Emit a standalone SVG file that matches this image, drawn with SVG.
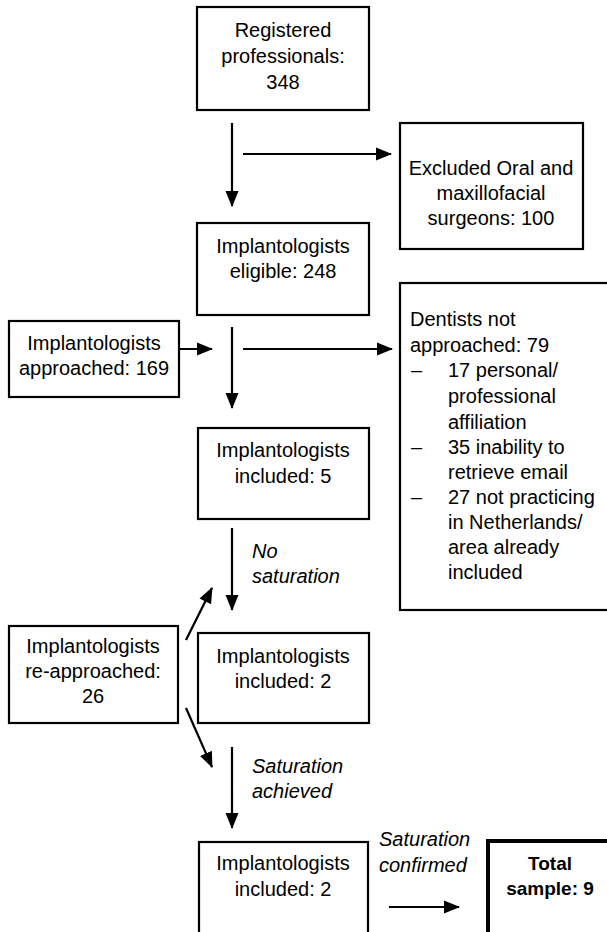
<svg xmlns="http://www.w3.org/2000/svg" width="607" height="932" viewBox="0 0 607 932">
<style>
.box{fill:#fff;stroke:#000;stroke-width:2.2}
.thick{fill:#fff;stroke:#000;stroke-width:4}
.t{font-family:"Liberation Sans",Arial,sans-serif;font-size:20px;fill:#000}
.c{text-anchor:middle}
.i{font-style:italic}
.b{font-weight:bold;font-size:19px}
.ln{stroke:#000;stroke-width:2.2;fill:none;marker-end:url(#ah)}
</style>
<defs>
<marker id="ah" markerUnits="userSpaceOnUse" markerWidth="16" markerHeight="16" viewBox="0 0 16 16" refX="15" refY="8" orient="auto">
<path d="M0,1.5 L16,8 L0,14.5 Z" fill="#000"/>
</marker>
</defs>
<rect width="607" height="932" fill="#fff"/>
<g id="connectors">
<line class="ln" x1="232" y1="123" x2="232" y2="206"/>
<line class="ln" x1="243" y1="154" x2="391" y2="154"/>
<line class="ln" x1="179" y1="349" x2="212" y2="349"/>
<line class="ln" x1="243" y1="349" x2="392" y2="349"/>
<line class="ln" x1="232" y1="327" x2="232" y2="408"/>
<line class="ln" x1="232" y1="528" x2="232" y2="610"/>
<line class="ln" x1="186" y1="640" x2="212" y2="588"/>
<line class="ln" x1="186" y1="708" x2="212" y2="767"/>
<line class="ln" x1="232" y1="747" x2="232" y2="828"/>
<line class="ln" x1="389" y1="907" x2="459" y2="907"/>
<text class="t i" x="252" y="558">No</text>
<text class="t i" x="252" y="583">saturation</text>
<text class="t i" x="252" y="773">Saturation</text>
<text class="t i" x="252" y="798">achieved</text>
<text class="t i" x="379" y="846">Saturation</text>
<text class="t i" x="379" y="872">confirmed</text>
</g>
<g id="registered">
<rect class="box" x="197" y="7" width="172" height="103"/>
<text class="t c" x="283" y="37">Registered</text>
<text class="t c" x="283" y="63">professionals:</text>
<text class="t c" x="283" y="89">348</text>
</g>
<g id="excluded">
<rect class="box" x="400" y="123" width="183" height="126"/>
<text class="t c" x="491" y="175">Excluded Oral and</text>
<text class="t c" x="491" y="200">maxillofacial</text>
<text class="t c" x="491" y="225">surgeons: 100</text>
</g>
<g id="eligible">
<rect class="box" x="197" y="223" width="172" height="92"/>
<text class="t c" x="283" y="253">Implantologists</text>
<text class="t c" x="283" y="278">eligible: 248</text>
</g>
<g id="approached">
<rect class="box" x="9" y="321" width="170" height="76"/>
<text class="t c" x="94" y="350">Implantologists</text>
<text class="t c" x="94" y="375">approached: 169</text>
</g>
<g id="notapproached">
<rect class="box" x="400" y="283" width="230" height="327"/>
<text class="t" x="410" y="326">Dentists not</text>
<text class="t" x="410" y="352">approached: 79</text>
<text class="t" x="411" y="377">–</text>
<text class="t" x="448" y="377">17 personal/</text>
<text class="t" x="448" y="403">professional</text>
<text class="t" x="448" y="429">affiliation</text>
<text class="t" x="411" y="454">–</text>
<text class="t" x="448" y="454">35 inability to</text>
<text class="t" x="448" y="479">retrieve email</text>
<text class="t" x="411" y="504">–</text>
<text class="t" x="448" y="504">27 not practicing</text>
<text class="t" x="448" y="529">in Netherlands/</text>
<text class="t" x="448" y="554">area already</text>
<text class="t" x="448" y="579">included</text>
</g>
<g id="included5">
<rect class="box" x="198" y="428" width="171" height="91"/>
<text class="t c" x="283" y="457">Implantologists</text>
<text class="t c" x="283" y="483">included: 5</text>
</g>
<g id="reapproached">
<rect class="box" x="9" y="626" width="169" height="97"/>
<text class="t c" x="93" y="653">Implantologists</text>
<text class="t c" x="93" y="678">re-approached:</text>
<text class="t c" x="93" y="703">26</text>
</g>
<g id="included2a">
<rect class="box" x="198" y="633" width="171" height="90"/>
<text class="t c" x="283" y="663">Implantologists</text>
<text class="t c" x="283" y="688">included: 2</text>
</g>
<g id="included2b">
<rect class="box" x="199" y="842" width="169" height="100"/>
<text class="t c" x="283" y="870">Implantologists</text>
<text class="t c" x="283" y="896">included: 2</text>
</g>
<g id="total">
<rect class="thick" x="488" y="841" width="130" height="100"/>
<text class="t c b" x="550" y="870">Total</text>
<text class="t c b" x="550" y="895">sample: 9</text>
</g>
</svg>
